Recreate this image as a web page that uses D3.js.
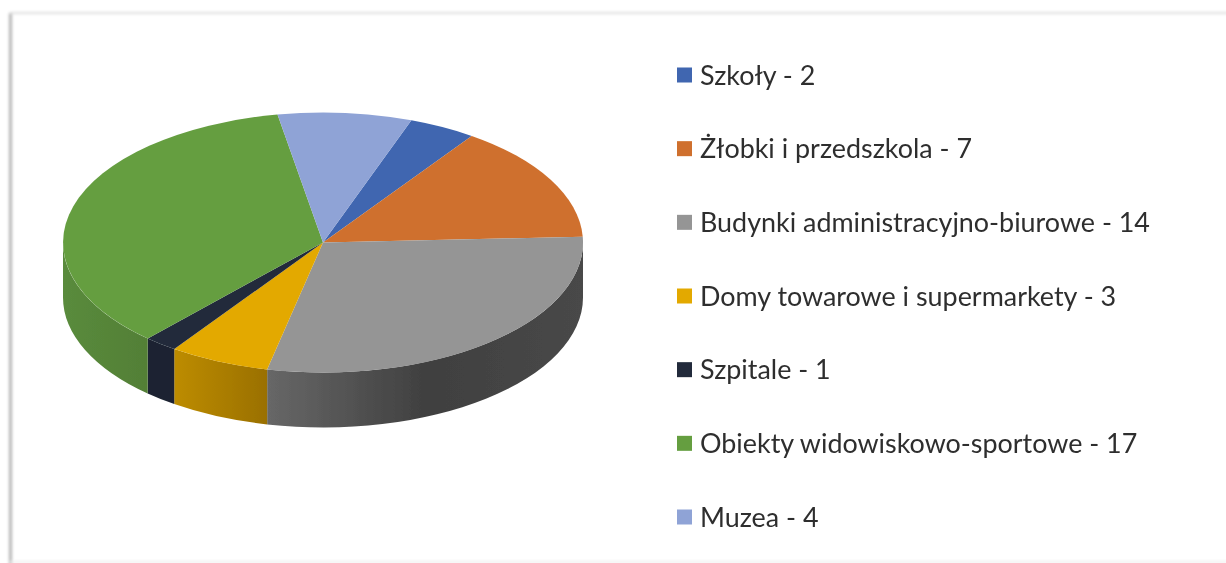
<!DOCTYPE html>
<html>
<head>
<meta charset="utf-8">
<script src="https://cdnjs.cloudflare.com/ajax/libs/d3/7.8.5/d3.min.js"></script>
<style>
html, body { margin: 0; padding: 0; background: #fff; overflow: hidden; }
text { font-family: Lato, sans-serif; fill: #2f2f2f; }
</style>
</head>
<body>
<div id="chart"></div>
<script>
var categories = ["Szkoły", "Żłobki i przedszkola", "Budynki administracyjno-biurowe", "Domy towarowe i supermarkety", "Szpitale", "Obiekty widowiskowo-sportowe", "Muzea"];
var values = [2, 7, 14, 3, 1, 17, 4];
var colors = ["#3f66b0", "#cf702d", "#959595", "#e3a904", "#212b3b", "#659e41", "#8fa3d6"];
// wall shading, left to right across the visible part of each slice
var sideColors = [
	["#2f4c84", "#2f4c84"],
	["#9b5422", "#9b5422"],
	["#676767", "#404040", "#484848"],
	["#bd8c03", "#9a7002"],
	["#1c2431", "#1c2431"],
	["#5a8b3c", "#527f36"],
	["#6b7aa0", "#6b7aa0"]
];

var width = 1226, height = 563;
var cx = 323, cy = 242.5, rx = 260, ry = 130, depth = 55;
var firstAngle = 19.9 * Math.PI / 180;

var svg = d3.select("#chart").append("svg")
	.attr("width", width)
	.attr("height", height);
var defs = svg.append("defs");

// soft frame of the screenshot, left and top edge
defs.append("filter").attr("id", "soft")
	.append("feGaussianBlur").attr("stdDeviation", 1.5);
defs.append("filter").attr("id", "slight")
	.append("feGaussianBlur").attr("stdDeviation", 0.5);

var frame = svg.append("g").attr("filter", "url(#soft)");
frame.append("rect").attr("x", 9).attr("y", 13).attr("width", 3).attr("height", height).attr("fill", "#b4b4b4");
frame.append("rect").attr("x", 10).attr("y", 12).attr("width", width).attr("height", 2).attr("fill", "#dedede");
frame.append("rect").attr("x", 10).attr("y", 561).attr("width", width).attr("height", 2).attr("fill", "#eeeeee");

var pie = d3.pie()
	.sort(null)
	.startAngle(firstAngle)
	.endAngle(firstAngle + 2 * Math.PI);
var slices = pie(values);

var arc = d3.arc().innerRadius(0).outerRadius(1);

function px(a) { return cx + rx * Math.sin(a); }
function py(a) { return cy - ry * Math.cos(a); }

var chart = svg.append("g").attr("filter", "url(#slight)");

// walls: only the part of a slice between 90 and 270 degrees faces the viewer
slices.forEach(function(d, i) {
	var a0 = Math.max(d.startAngle, Math.PI / 2);
	var a1 = Math.min(d.endAngle, 3 * Math.PI / 2);
	if (a1 <= a0) return;

	var grad = defs.append("linearGradient")
		.attr("id", "side" + i)
		.attr("gradientUnits", "userSpaceOnUse")
		.attr("x1", Math.min(px(a0), px(a1))).attr("y1", 0)
		.attr("x2", Math.max(px(a0), px(a1))).attr("y2", 0);
	// slices on the right run right to left, so the stops stay in screen order
	var stops = sideColors[i];
	grad.selectAll("stop").data(stops).enter().append("stop")
		.attr("offset", function(c, k) { return k / (stops.length - 1); })
		.attr("stop-color", function(c) { return c; });

	var large = a1 - a0 > Math.PI ? 1 : 0;
	var p = "M" + px(a0) + "," + py(a0)
		+ "A" + rx + "," + ry + " 0 " + large + " 1 " + px(a1) + "," + py(a1)
		+ "L" + px(a1) + "," + (py(a1) + depth)
		+ "A" + rx + "," + ry + " 0 " + large + " 0 " + px(a0) + "," + (py(a0) + depth)
		+ "Z";
	chart.append("path")
		.attr("d", p)
		.attr("fill", "url(#side" + i + ")");
});

// top face is a flat pie squashed into an ellipse
chart.append("g")
	.attr("transform", "translate(" + cx + "," + cy + ") scale(" + rx + "," + ry + ")")
	.selectAll("path")
	.data(slices)
	.enter()
	.append("path")
		.attr("d", arc)
		.attr("fill", function(d, i) { return colors[i]; });

// legend
var legendY = d3.scalePoint()
	.domain(categories)
	.range([75, 517]);

var legend = svg.append("g").attr("filter", "url(#slight)")
	.selectAll("g")
	.data(categories)
	.enter()
	.append("g")
		.attr("transform", function(d) { return "translate(677," + legendY(d) + ")"; });

legend.append("rect")
	.attr("x", 0)
	.attr("y", -7.5)
	.attr("width", 15)
	.attr("height", 15)
	.attr("fill", function(d, i) { return colors[i]; });

legend.append("text")
	.attr("x", 23)
	.attr("y", 9.5)
	.attr("font-size", 26.9)
	.text(function(d, i) { return d + " - " + values[i]; });
</script>
</body>
</html>
